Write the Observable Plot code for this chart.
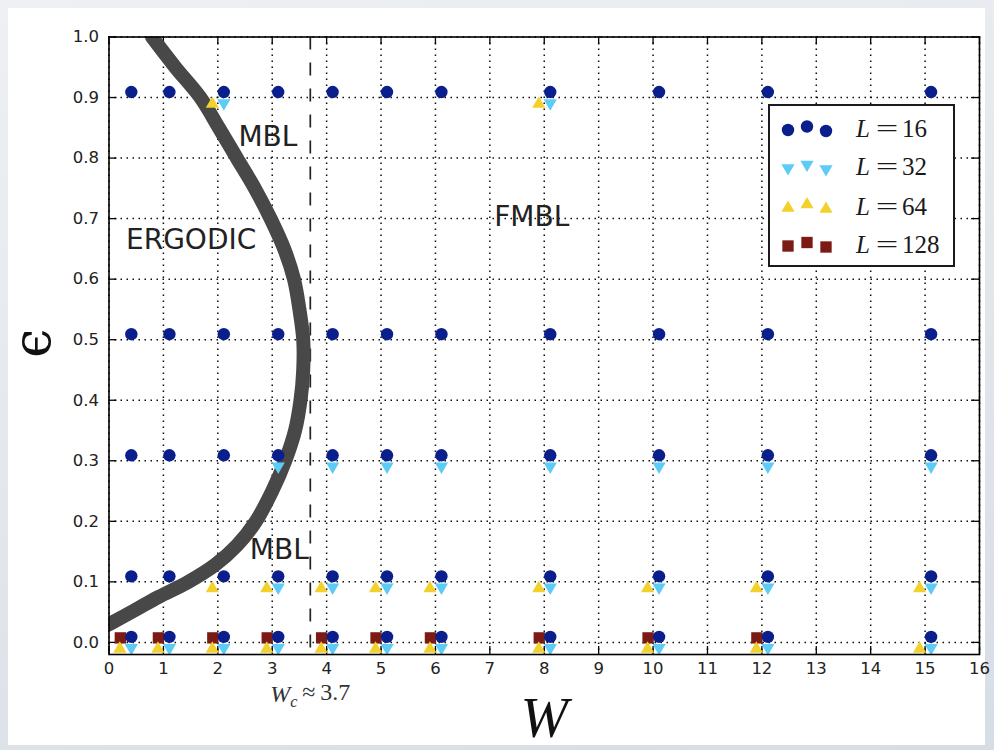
<!DOCTYPE html>
<html>
<head>
<meta charset="utf-8">
<script src="https://cdn.jsdelivr.net/npm/d3@7"></script>
<script src="https://cdn.jsdelivr.net/npm/@observablehq/plot@0.6"></script>
<style>
  html, body { margin: 0; padding: 0; }
  body {
    width: 994px; height: 750px; position: relative; overflow: hidden;
    background: linear-gradient(165deg, #eef0f3 0%, #e2e6eb 55%, #d7dde5 100%);
    font-family: "DejaVu Sans", sans-serif;
  }
  #card { position: absolute; left: 8px; top: 8px; width: 977px; height: 737px; background: #fff; }
  #chart { position: absolute; left: 0; top: 0; }
  #legend {
    position: absolute; left: 768px; top: 104px; width: 183px; height: 159px;
    background: #fff; border: 2px solid #1a1a1a;
  }
  #legend .row { position: absolute; left: 0; height: 30px; width: 183px; }
  #legend .row svg { position: absolute; left: 0; top: 0; }
  #legend .row .lab {
    position: absolute; left: 86px; top: 0; line-height: 30px; font-size: 25px;
    font-family: "Liberation Serif", serif; color: #1a1a1a; white-space: nowrap;
  }
  #legend .row .lab i { font-style: italic; }
  #legend .row .lab .eq { display: inline-block; margin: 0 8px 0 10px; transform: scaleX(1.6); }
</style>
</head>
<body>
<div id="card"></div>
<div id="chart"></div>
<div id="legend"></div>
<script>
// Rows of [ε, W values] for every system size L
const L16_ROWS = [
  [0.9, [0.3, 1, 2, 3, 4, 5, 6, 8, 10, 12, 15]],
  [0.5, [0.3, 1, 2, 3, 4, 5, 6, 8, 10, 12, 15]],
  [0.3, [0.3, 1, 2, 3, 4, 5, 6, 8, 10, 12, 15]],
  [0.1, [0.3, 1, 2, 3, 4, 5, 6, 8, 10, 12, 15]],
  [0.0, [0.3, 1, 2, 3, 4, 5, 6, 8, 10, 12, 15]]
];
const L32_ROWS = [
  [0.9, [2, 8]],
  [0.3, [3, 4, 5, 6, 8, 10, 12, 15]],
  [0.1, [3, 4, 5, 6, 8, 10, 12, 15]],
  [0.0, [0.3, 1, 2, 3, 4, 5, 6, 8, 10, 12, 15]]
];
const L64_ROWS = [
  [0.9, [2, 8]],
  [0.1, [2, 3, 4, 5, 6, 8, 10, 12, 15]],
  [0.0, [0.3, 1, 2, 3, 4, 5, 6, 8, 10, 12, 15]]
];
const L128_ROWS = [
  [0.0, [0.3, 1, 2, 3, 4, 5, 6, 8, 10, 12]]
];

const SIZES = [16, 32, 64, 128];

// Mobility edge separating ergodic and MBL regions: (W, ε)
const EDGE_W   = [0.0,  0.45,  0.91,  1.46, 1.95,  2.35, 2.7, 3.0,  3.24, 3.42, 3.52, 3.57, 3.57, 3.5,  3.4, 3.22, 2.97, 2.68, 2.35, 2.02, 1.68, 1.22, 0.79];
const EDGE_EPS = [0.03, 0.052, 0.075, 0.1,  0.128, 0.16, 0.2, 0.25, 0.3,  0.35, 0.4,  0.45, 0.5,  0.55, 0.6, 0.65, 0.7,  0.75, 0.8,  0.85, 0.9,  0.95, 1.0];

// Critical disorder
const W_C = 3.7;

// Phase names and where they sit
const REGION_TEXT = ["MBL", "ERGODIC", "FMBL", "MBL"];
const REGION_W    = [2.92, 1.51, 7.77, 3.13];
const REGION_EPS  = [0.834, 0.664, 0.702, 0.152];

// Axis ticks
const X_TICKS = [0, 1, 2, 3, 4, 5, 6, 7, 8, 9, 10, 11, 12, 13, 14, 15, 16];
const Y_TICKS = [0.0, 0.1, 0.2, 0.3, 0.4, 0.5, 0.6, 0.7, 0.8, 0.9, 1.0];

// ---- styling ----
const COLORS = ["#0a1f8c", "#5ccbf6", "#f3d12c", "#7c1b14"];
const sqrt3 = Math.sqrt(3);
const triangleDown = {
  draw(context, size) {
    const y = Math.sqrt(size / (sqrt3 * 3));
    context.moveTo(0, y * 2);
    context.lineTo(-sqrt3 * y, -y);
    context.lineTo(sqrt3 * y, -y);
    context.closePath();
  }
};
const SYMBOLS = [d3.symbolCircle, triangleDown, d3.symbolTriangle, d3.symbolSquare];
const RADII = [6.2, 4.9, 4.9, 6.4];
const OFFSETS = [[6, -5.5], [6, 5.5], [-5.5, 6.5], [-5, -4.5]];

const rowsToPoints = rows => rows.flatMap(([eps, ws]) => ws.map(W => ({W, eps})));
const SERIES_ROWS = [L16_ROWS, L32_ROWS, L64_ROWS, L128_ROWS];

const edge = EDGE_W.map((W, i) => ({W, eps: EDGE_EPS[i]}));
const regions = REGION_TEXT.map((t, i) => ({t, W: REGION_W[i], eps: REGION_EPS[i]}));

const width = 994, height = 750;
const margin = {left: 108.5, right: 15, top: 36.5, bottom: 96};
const innerW = width - margin.left - margin.right;
const innerH = height - margin.top - margin.bottom;
const tickLen = 8;
const gridStyle = {stroke: "#000", strokeOpacity: 0.95, strokeWidth: 1.5, strokeDasharray: "1.5,4.5"};

// Draw larger system sizes first so L = 16 sits on top
const dotMarks = [3, 2, 1, 0].map(i => Plot.dot(rowsToPoints(SERIES_ROWS[i]), {
  x: "W", y: "eps", symbol: SYMBOLS[i], r: RADII[i], fill: COLORS[i], stroke: "none",
  dx: OFFSETS[i][0], dy: OFFSETS[i][1]
}));

const chart = Plot.plot({
  width, height,
  marginLeft: margin.left, marginRight: margin.right, marginTop: margin.top, marginBottom: margin.bottom,
  x: {domain: [0, 16]},
  y: {domain: [-0.02, 1.0]},
  style: {background: "transparent", fontFamily: "DejaVu Sans", color: "#222"},
  marks: [
    Plot.gridX(X_TICKS, gridStyle),
    Plot.gridY(Y_TICKS, gridStyle),
    Plot.axisX(X_TICKS, {tickSize: 0, tickPadding: 8, fontSize: 16.5, label: null, tickFormat: d => String(d)}),
    Plot.axisY(Y_TICKS, {tickSize: 0, tickPadding: 10, fontSize: 16.5, label: null, tickFormat: d => d.toFixed(1)}),
    // inward ticks on all four sides
    Plot.ruleY(Y_TICKS, {y: d => d, stroke: "#000", strokeWidth: 1.3, insetRight: innerW - tickLen}),
    Plot.ruleY(Y_TICKS, {y: d => d, stroke: "#000", strokeWidth: 1.3, insetLeft: innerW - tickLen}),
    Plot.ruleX(X_TICKS, {x: d => d, stroke: "#000", strokeWidth: 1.3, insetTop: innerH - tickLen}),
    Plot.ruleX(X_TICKS, {x: d => d, stroke: "#000", strokeWidth: 1.3, insetBottom: innerH - tickLen}),
    Plot.ruleX([W_C], {x: d => d, stroke: "#222", strokeWidth: 1.7, strokeDasharray: "13,13"}),
    Plot.line(edge, {x: "W", y: "eps", stroke: "#484848", strokeWidth: 14, curve: "catmull-rom", clip: true}),
    ...dotMarks,
    Plot.text(regions, {x: "W", y: "eps", text: "t", fontSize: 28, fill: "#222", textAnchor: "middle", lineAnchor: "middle"}),
    Plot.text([W_C], {x: d => d, frameAnchor: "bottom", dy: 40, text: d => `W_c ≈ ${d}`, fontSize: 24,
      fontFamily: "Liberation Serif", fill: "#333", lineAnchor: "middle"}),
    Plot.text(["W"], {frameAnchor: "bottom", dy: 64.5, text: d => d, fontSize: 57, fontFamily: "Liberation Serif",
      fontStyle: "italic", fill: "#111", lineAnchor: "middle"}),
    Plot.text(["ϵ"], {frameAnchor: "left", dx: -76, dy: 12, rotate: -90, text: d => d, fontSize: 52,
      fontFamily: "DejaVu Serif", fill: "#111", lineAnchor: "middle"}),
    Plot.frame({stroke: "#000", strokeWidth: 1.6})
  ]
});
document.getElementById("chart").appendChild(chart);

// Typeset the critical-disorder label with an italic W and subscript c
d3.select(chart).selectAll("text").filter(function() {
  return this.textContent.startsWith("W_c");
}).each(function() {
  const t = d3.select(this);
  t.text(null);
  t.append("tspan").attr("font-style", "italic").text("W");
  t.append("tspan").attr("font-style", "italic").attr("font-size", "0.68em").attr("dy", "0.3em").text("c");
  t.append("tspan").attr("dy", "-0.3em").text(`\u2009≈\u2009${W_C}`);
});

// Legend: three scatter markers per system size
const LEGEND_ROW_TOP = [7.5, 45.5, 86, 124];
const LEGEND_MARK_X = [18, 37, 56];
const LEGEND_MARK_DY = [1, -2.5, 2];
const legend = d3.select("#legend");
SIZES.forEach((L, i) => {
  const row = legend.append("div").attr("class", "row").style("top", LEGEND_ROW_TOP[i] + "px");
  const svg = row.append("svg").attr("width", 75).attr("height", 30);
  LEGEND_MARK_X.forEach((cx, k) => {
    svg.append("path")
      .attr("transform", `translate(${cx},${15 + LEGEND_MARK_DY[k]})`)
      .attr("d", d3.symbol(SYMBOLS[i], Math.PI * RADII[i] * RADII[i])())
      .attr("fill", COLORS[i]);
  });
  const lab = row.append("div").attr("class", "lab");
  lab.append("i").text("L");
  lab.append("span").attr("class", "eq").text("=");
  lab.append("span").text(String(L));
});
</script>
</body>
</html>
